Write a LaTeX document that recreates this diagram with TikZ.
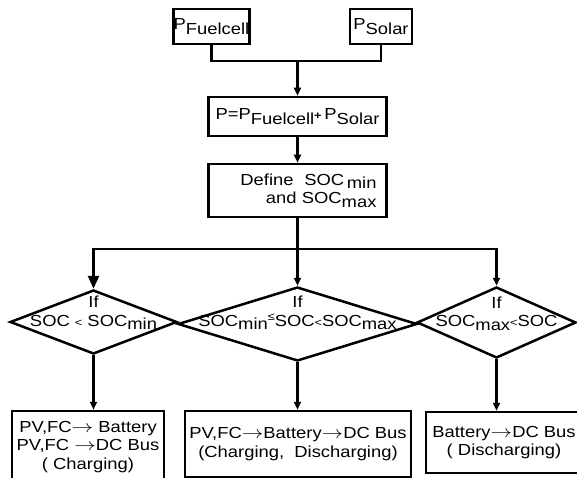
\documentclass[tikz,border=0pt]{standalone}
\usepackage{fontspec}
\setmainfont{Liberation Sans}[FakeStretch=1.15]
\usepackage{tikz}
\usetikzlibrary{arrows.meta,shapes.geometric}

\newcommand{\lowered}[1]{\raisebox{-0.45ex}{#1}}
\newcommand{\pwr}[1]{P\raisebox{-0.6ex}{#1}}
\newcommand{\tinyrel}[1]{{\fontsize{11}{13}\selectfont #1}}
\newcommand{\ra}{\scalebox{1.25}[1]{$\rightarrow$}}

\begin{document}
\begin{tikzpicture}[
  x=1pt, y=-1pt,
  every node/.style={font=\fontsize{16}{18.5}\selectfont},
  box/.style={rectangle, draw, line width=2.5pt, inner sep=0pt, align=center},
  cond/.style={diamond, draw, line width=2.5pt, inner sep=0pt},
  condtxt/.style={inner sep=0pt, align=center},
  link/.style={line width=2.5pt},
  arr/.style={line width=2.5pt, -{Triangle[length=8pt,width=7pt]}},
  arrbig/.style={line width=2.5pt, -{Triangle[length=13pt,width=11pt]}}
]
\useasboundingbox (0,0) rectangle (577,478);

% Fuentes
\node[box, minimum width=75, minimum height=35] (fc) at (211.5,26.5) {\pwr{Fuelcell}};
\node[box, minimum width=62, minimum height=35] (pv) at (381,26.5) {\pwr{Solar}};
\coordinate (j) at (297.5,61);

% Suma y limites
\node[box, minimum width=178, minimum height=39] (sum) at (297.5,116.5)
  {P=\pwr{Fuelcell}\textbf{\tinyrel{+}}\,\pwr{Solar}};
\node[box, minimum width=178, minimum height=53, text width=158, align=right] (lim) at (297.5,190.5)
  {Define\ \ SOC\,\lowered{min}\\and SOC\lowered{max}};
\coordinate (br) at (297.5,249);

\draw[link] (fc.south) |- (j) -| (pv.south);
\draw[arr] (j) -- (sum);
\draw[arr] (sum) -- (lim);

% Condiciones
\node[cond, minimum width=167, minimum height=64] (c1) at (93.5,322) {};
\node[cond, minimum width=239, minimum height=74] (c2) at (297.5,324) {};
\node[cond, minimum width=159, minimum height=71] (c3) at (496.5,322.5) {};
\node[condtxt] at ([yshift=9]c1.center) {If\\SOC \tinyrel{<} SOC\lowered{min}};
\node[condtxt] at ([yshift=11]c2.center) {If\\SOC\lowered{min}\raisebox{0.6ex}{\tinyrel{≤}}SOC\tinyrel{<}SOC\lowered{max}};
\node[condtxt] at ([yshift=9]c3.center) {If\\SOC\lowered{max}\tinyrel{<}SOC};

\draw[arr] (lim) -- (c2);
\draw[arrbig] (br) -| (c1.north);
\draw[arr] (br) -| (c3.north);

% Modos
\node[box, minimum width=152, minimum height=72] (m1) at (88,447)
  {PV,FC\ra\ Battery\\PV,FC \ra DC Bus\\( Charging)};
\node[box, minimum width=226, minimum height=66] (m2) at (298,444)
  {PV,FC\ra Battery\ra DC Bus\\(Charging,\ \ Discharging)};
\node[box, minimum width=156, minimum height=61] (m3) at (504,442.5)
  {Battery\ra DC Bus\\( Discharging)};

\foreach \c/\m in {c1/m1, c2/m2, c3/m3} {
  \draw[arr] (\c.south) -- (\c.south |- \m.north);
}
\end{tikzpicture}
\end{document}
